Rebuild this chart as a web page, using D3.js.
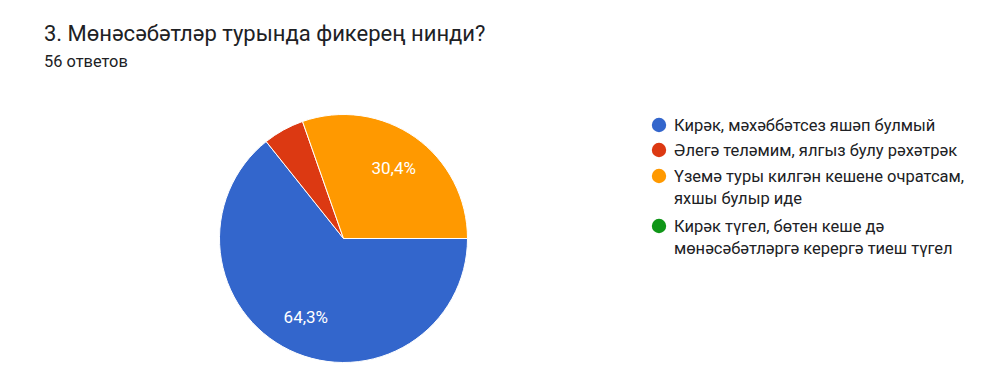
<!DOCTYPE html>
<html>
<head>
<meta charset="utf-8">
<script src="https://cdn.jsdelivr.net/npm/d3@7"></script>
<style>
	body{margin:0;background:#fff;font-family:Roboto,"Noto Sans",Arial,sans-serif;}
	svg{display:block;}
</style>
</head>
<body>
<svg id="chart" width="1007" height="366"></svg>
<script>
// данные
var categories = [
	'Кирәк, мәхәббәтсез яшәп булмый',
	'Әлегә теләмим, ялгыз булу рәхәтрәк',
	'Үземә туры килгән кешене очратсам, яхшы булыр иде',
	'Кирәк түгел, бөтен кеше дә мөнәсәбәтләргә керергә тиеш түгел'
];
var legendLines = [
	['Кирәк, мәхәббәтсез яшәп булмый'],
	['Әлегә теләмим, ялгыз булу рәхәтрәк'],
	['Үземә туры килгән кешене очратсам,', 'яхшы булыр иде'],
	['Кирәк түгел, бөтен кеше дә', 'мөнәсәбәтләргә керергә тиеш түгел']
];
var counts = [36, 3, 17, 0];
var colors = ['#3366cc', '#dc3912', '#ff9900', '#109618'];
var title = '3. Мөнәсәбәтләр турында фикерең нинди?';
var subtitle = '56 ответов';

var svg = d3.select('#chart');
var total = d3.sum(counts);

// заголовок
svg.append('text')
	.attr('x', 44).attr('y', 41)
	.attr('fill', '#202124')
	.style('font-size', '22px')
	.text(title);
svg.append('text')
	.attr('x', 44).attr('y', 67)
	.attr('fill', '#202124')
	.style('font-size', '16.4px')
	.text(subtitle);

// круговая диаграмма
var cx = 343.5, cy = 238.5, r = 124;
var pie = d3.pie().sort(null).value(function(d){ return d; })
	.startAngle(Math.PI / 2).endAngle(Math.PI / 2 + 2 * Math.PI);
var arcs = pie(counts);
var arc = d3.arc().innerRadius(0).outerRadius(r);
var labelArc = d3.arc().innerRadius(r * 0.7).outerRadius(r * 0.7);

var g = svg.append('g').attr('transform', 'translate(' + cx + ',' + cy + ')');
g.selectAll('path.slice')
	.data(arcs.filter(function(d){ return d.value > 0; }))
	.enter().append('path')
	.attr('class', 'slice')
	.attr('d', arc)
	.attr('fill', function(d){ return colors[d.index]; })
	.attr('stroke', '#fff')
	.attr('stroke-width', 1);

g.selectAll('text.pct')
	.data(arcs.filter(function(d){ return d.value / total > 0.1; }))
	.enter().append('text')
	.attr('class', 'pct')
	.attr('transform', function(d){ return 'translate(' + labelArc.centroid(d) + ')'; })
	.attr('text-anchor', 'middle')
	.attr('dy', '0.36em')
	.attr('fill', '#fff')
	.style('font-size', '17px')
	.text(function(d){ return (d.value / total * 100).toFixed(1).replace('.', ',') + '%'; });

// легенда
var legendY = [125, 150, 176, 226];
var lineH = 22;
var legend = svg.append('g');
categories.forEach(function(c, i){
	var row = legend.append('g').attr('transform', 'translate(659,' + legendY[i] + ')');
	row.append('circle').attr('r', 7.2).attr('fill', colors[i]);
	var t = row.append('text')
		.attr('fill', '#202124')
		.style('font-size', '16.5px');
	legendLines[i].forEach(function(line, j){
		t.append('tspan').attr('x', 15).attr('y', j * lineH).attr('dy', '0.36em').text(line);
	});
});
</script>
</body>
</html>
